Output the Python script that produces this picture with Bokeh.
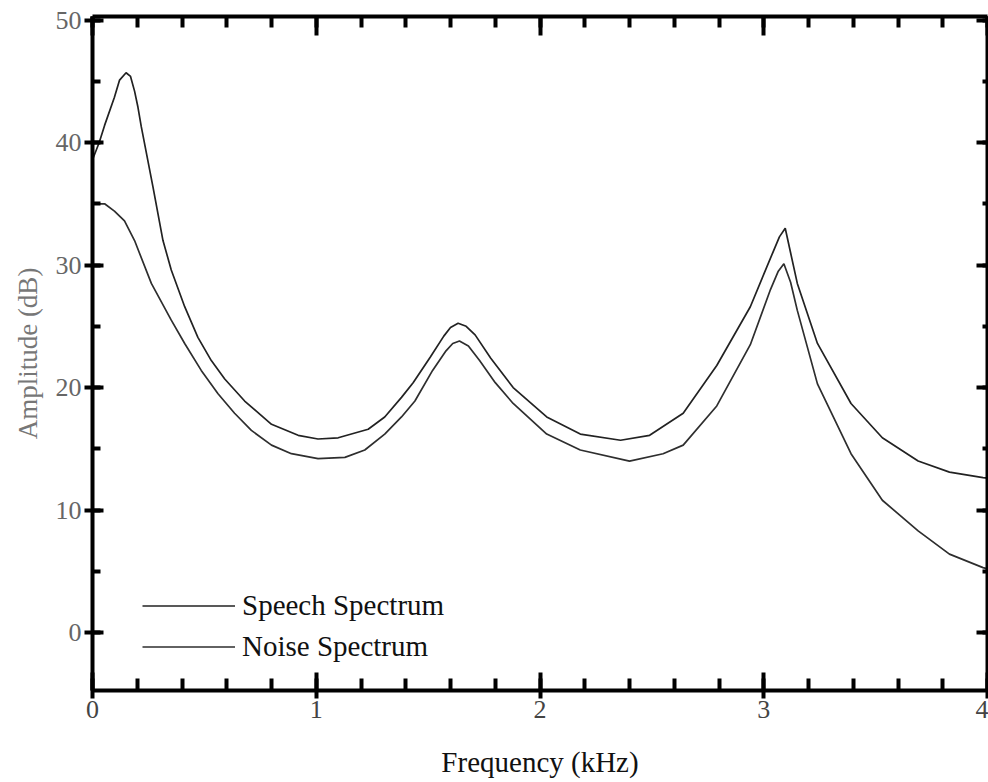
from bokeh.plotting import figure
from bokeh.models import (LinearAxis, Range1d, Legend, LegendItem,
                          SingleIntervalTicker, CustomLabelingPolicy)
from bokeh.embed import file_html
from bokeh.resources import INLINE

# ---- data ----
speech_khz = [0.0, 0.03, 0.054, 0.098, 0.121, 0.15, 0.17, 0.188, 0.203, 0.218, 0.27,
              0.315, 0.352, 0.412, 0.471, 0.531, 0.591, 0.68, 0.80, 0.919, 1.008,
              1.098, 1.232, 1.306, 1.381, 1.433, 1.51, 1.57, 1.60, 1.634, 1.67, 1.71,
              1.78, 1.88, 2.03, 2.18, 2.36, 2.49, 2.64, 2.79, 2.94, 3.04, 3.07, 3.096,
              3.12, 3.15, 3.24, 3.39, 3.53, 3.69, 3.83, 3.98, 4.0]
speech_db = [38.6, 40.0, 41.4, 43.7, 45.1, 45.7, 45.4, 44.2, 42.9, 41.3, 36.4,
             32.0, 29.6, 26.6, 24.1, 22.2, 20.7, 18.9, 17.0, 16.1, 15.8,
             15.9, 16.6, 17.6, 19.2, 20.4, 22.5, 24.2, 24.9, 25.25, 25.0, 24.3,
             22.4, 20.0, 17.6, 16.2, 15.7, 16.1, 17.9, 21.8, 26.6, 31.0, 32.3, 33.0,
             31.0, 28.5, 23.6, 18.7, 15.9, 14.0, 13.1, 12.65, 12.6]

noise_khz = [0.0, 0.054, 0.098, 0.143, 0.188, 0.263, 0.352, 0.412, 0.486, 0.561,
             0.635, 0.71, 0.80, 0.889, 1.008, 1.128, 1.217, 1.306, 1.381, 1.441,
             1.52, 1.58, 1.61, 1.64, 1.68, 1.73, 1.80, 1.88, 2.03, 2.18, 2.40, 2.55,
             2.64, 2.79, 2.94, 3.03, 3.065, 3.09, 3.12, 3.15, 3.24, 3.39, 3.53, 3.69,
             3.83, 3.98, 4.0]
noise_db = [35.0, 35.0, 34.4, 33.6, 32.0, 28.5, 25.5, 23.6, 21.4, 19.5,
            17.9, 16.5, 15.3, 14.6, 14.2, 14.3, 14.9, 16.2, 17.6, 18.9,
            21.4, 23.0, 23.6, 23.8, 23.4, 22.2, 20.4, 18.7, 16.2, 14.9, 14.0, 14.6,
            15.3, 18.5, 23.5, 28.0, 29.5, 30.1, 28.6, 26.3, 20.3, 14.6, 10.8, 8.3,
            6.4, 5.3, 5.2]

series_names = ["Speech Spectrum", "Noise Spectrum"]
x_title = "Frequency (kHz)"
y_title = "Amplitude (dB)"

FONT = "Liberation Serif"

p = figure(width=988, height=782,
           x_range=Range1d(0, 4), y_range=Range1d(-4.73, 50.29),
           output_backend="svg", toolbar_location=None,
           min_border_left=92, min_border_right=1,
           min_border_top=16, min_border_bottom=92)
p.xgrid.visible = False
p.ygrid.visible = False
p.outline_line_color = None
p.background_fill_color = "white"

r1 = p.line(speech_khz, speech_db, line_color="#222222", line_width=1.7)
r2 = p.line(noise_khz, noise_db, line_color="#2e2e2e", line_width=1.7)

# bottom axis
xa = p.xaxis[0]
xa.ticker = SingleIntervalTicker(interval=1, num_minor_ticks=5)
xa.axis_label = x_title
xa.axis_label_text_font = FONT
xa.axis_label_text_font_style = "normal"
xa.axis_label_text_font_size = "29px"
xa.axis_label_text_color = "#111111"
xa.axis_label_standoff = 25
xa.major_label_text_font = FONT
xa.major_label_text_font_size = "26px"
xa.major_label_text_color = "#444444"
xa.major_label_standoff = 2
xa.axis_line_width = 4
xa.major_tick_line_width = 4
xa.minor_tick_line_width = 4
xa.major_tick_line_color = "black"
xa.minor_tick_line_color = "black"
xa.major_tick_in = 18
xa.major_tick_out = 8
xa.minor_tick_in = 12
xa.minor_tick_out = 0

# left axis
ya = p.yaxis[0]
ya.ticker = SingleIntervalTicker(interval=10, num_minor_ticks=2)
ya.axis_label = y_title
ya.axis_label_text_font = FONT
ya.axis_label_text_font_style = "normal"
ya.axis_label_text_font_size = "27px"
ya.axis_label_text_color = "#777777"
ya.axis_label_standoff = 10
ya.major_label_text_font = FONT
ya.major_label_text_font_size = "26px"
ya.major_label_text_color = "#666666"
ya.major_label_standoff = 3
ya.axis_line_width = 4
ya.major_tick_line_width = 4
ya.minor_tick_line_width = 4
ya.major_tick_in = 11
ya.major_tick_out = 8
ya.minor_tick_in = 8
ya.minor_tick_out = 0

hide_code = """
const all = [...indices]
for (const i of all) { indices.unset(i) }
return indices
"""

# top axis (ticks only)
top = LinearAxis(ticker=SingleIntervalTicker(interval=1, num_minor_ticks=5))
top.major_label_policy = CustomLabelingPolicy(code=hide_code)
top.major_label_text_font_size = "0px"
top.major_label_standoff = 0
top.axis_line_width = 4
top.major_tick_line_width = 4
top.minor_tick_line_width = 4
top.major_tick_line_color = "black"
top.minor_tick_line_color = "black"
top.major_tick_in = 19
top.major_tick_out = 0
top.minor_tick_in = 11
top.minor_tick_out = 0
p.add_layout(top, "above")

# right axis (ticks only)
right = LinearAxis(ticker=SingleIntervalTicker(interval=10, num_minor_ticks=2))
right.major_label_policy = CustomLabelingPolicy(code=hide_code)
right.major_label_text_font_size = "0px"
right.major_label_standoff = 0
right.axis_line_width = 4
right.major_tick_line_width = 4
right.minor_tick_line_width = 4
right.major_tick_in = 11
right.major_tick_out = 0
right.minor_tick_in = 5
right.minor_tick_out = 0
p.add_layout(right, "right")

legend = Legend(items=[LegendItem(label=series_names[0], renderers=[r1]),
                       LegendItem(label=series_names[1], renderers=[r2])],
                location=(50, 23))
legend.glyph_width = 93
legend.glyph_height = 41
legend.label_height = 41
legend.spacing = 0
legend.padding = 0
legend.margin = 0
legend.label_standoff = 7
legend.border_line_color = None
legend.background_fill_alpha = 0
legend.label_text_font = FONT
legend.label_text_font_size = "29px"
legend.label_text_color = "#111111"
p.add_layout(legend)

open("out.html", "w").write(file_html(p, INLINE))
